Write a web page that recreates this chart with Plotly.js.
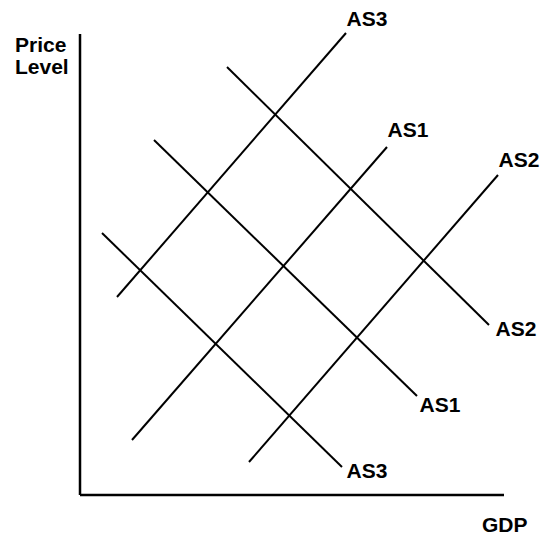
<!DOCTYPE html>
<html>
<head>
<meta charset="utf-8">
<script src="https://cdn.plot.ly/plotly-3.0.1.min.js"></script>
<style>html,body{margin:0;padding:0;background:#fff;}#chart{width:554px;height:537px;}</style>
</head>
<body>
<div id="chart"></div>
<script>
// Curve names and endpoints (diagram units; origin at the axes corner)
const upNames = ["AS3", "AS1", "AS2"];
const upX0 = [37, 52, 169];
const upY0 = [198, 55, 33];
const upX1 = [266, 307, 418];
const upY1 = [462, 348, 320];

const downNames = ["AS2", "AS1", "AS3"];
const downX0 = [147, 74, 22];
const downY0 = [428, 355, 262];
const downX1 = [409, 337, 262];
const downY1 = [170, 99, 28];

// Label positions for curve ends
const upLabelX = [287, 328, 439];
const upLabelY = [474, 363, 333];
const downLabelX = [436, 360, 287];
const downLabelY = [164, 88, 22];

// Axis extents and titles
const xAxisLength = 424;
const yAxisLength = 461;
const xTitle = "GDP";
const xTitlePos = [425, -29];
const yTitleLines = ["Price", "Level"];
const yTitlePos = [[-67, 451], [-67, 429]];

const FONT = "Arial, 'Liberation Sans', sans-serif";
const textFont = {family: FONT, size: 21, color: "#000", weight: "bold"};
const traces = [];
const lineStyle = {color: "#000", width: 2};
for (let i = 0; i < upNames.length; i++) {
  traces.push({type: "scatter", mode: "lines", x: [upX0[i], upX1[i]], y: [upY0[i], upY1[i]],
    line: lineStyle, hoverinfo: "skip", showlegend: false});
}
for (let i = 0; i < downNames.length; i++) {
  traces.push({type: "scatter", mode: "lines", x: [downX0[i], downX1[i]], y: [downY0[i], downY1[i]],
    line: lineStyle, hoverinfo: "skip", showlegend: false});
}
traces.push({type: "scatter", mode: "text", x: upLabelX.concat(downLabelX), y: upLabelY.concat(downLabelY),
  text: upNames.concat(downNames), textposition: "middle center",
  textfont: textFont, hoverinfo: "skip", showlegend: false});

const annotations = [
  {xref: "x", yref: "y", x: xTitlePos[0], y: xTitlePos[1], text: xTitle, showarrow: false, font: textFont, xanchor: "center", yanchor: "middle"},
  {xref: "x", yref: "y", x: yTitlePos[0][0], y: yTitlePos[0][1], text: yTitleLines[0], showarrow: false, font: textFont, xanchor: "left", yanchor: "middle"},
  {xref: "x", yref: "y", x: yTitlePos[1][0], y: yTitlePos[1][1], text: yTitleLines[1], showarrow: false, font: textFont, xanchor: "left", yanchor: "middle"}
];

const shapes = [
  {type: "line", xref: "x", yref: "y", x0: 0, y0: 0, x1: xAxisLength, y1: 0, line: {color: "#000", width: 2.5}},
  {type: "line", xref: "x", yref: "y", x0: 0, y0: 0, x1: 0, y1: yAxisLength, line: {color: "#000", width: 2.5}}
];

const layout = {
  width: 554, height: 537,
  margin: {l: 0, r: 0, t: 0, b: 0},
  paper_bgcolor: "#fff", plot_bgcolor: "#fff",
  xaxis: {range: [-80, 474], visible: false, fixedrange: true},
  yaxis: {range: [-42, 495], visible: false, fixedrange: true},
  annotations: annotations,
  shapes: shapes,
  showlegend: false
};
Plotly.newPlot("chart", traces, layout, {displayModeBar: false, staticPlot: true});
</script>
</body>
</html>
